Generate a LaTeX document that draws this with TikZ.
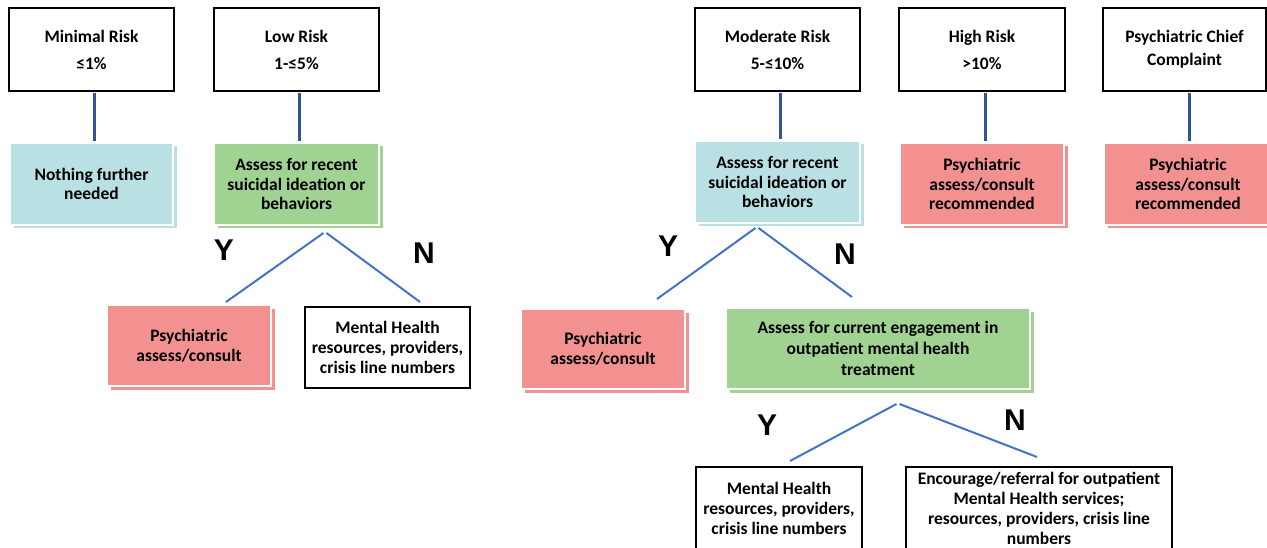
\documentclass[tikz,border=0pt]{standalone}
\usepackage{fontspec}
\setmainfont{Carlito}
\newfontfamily\ynfont{Liberation Sans}
\usetikzlibrary{shadows}
\definecolor{cyanF}{RGB}{185,225,228}
\definecolor{greenF}{RGB}{160,210,146}
\definecolor{pinkF}{RGB}{243,145,145}
\definecolor{topLine}{RGB}{47,85,151}
\definecolor{ynLine}{RGB}{68,114,196}
\tikzset{
  boxtxt/.style={font=\fontsize{17.5}{19.8}\selectfont\bfseries},
  topbox/.style={draw=black, line width=2pt, fill=white, inner sep=0pt, align=center,
     font=\fontsize{17.5}{27}\selectfont\bfseries},
  outbox/.style={draw=black, line width=2pt, fill=white, inner sep=0pt, align=center, boxtxt},
  colbox/.style={fill=#1, draw=white, line width=1.5pt, inner sep=0pt, align=center, boxtxt,
     general shadow={fill=#1, shadow xshift=4pt, shadow yshift=-3.5pt}},
  topconn/.style={draw=topLine, line width=3pt, shorten >=1pt, shorten <=1pt},
  ynconn/.style={draw=ynLine, line width=2pt},
  ynlab/.style={font=\ynfont\fontsize{30}{30}\selectfont\bfseries, inner sep=0pt}
}
\begin{document}
\begin{tikzpicture}[x=1pt,y=-1pt]
\useasboundingbox (0,0) rectangle (1267,548);
\clip (0,0) rectangle (1267,548);
% top row
\node[topbox, minimum width=165pt, minimum height=83pt] (minr) at (91.5,49.5) {Minimal Risk\\≤1\%};
\node[topbox, minimum width=165pt, minimum height=83pt] (lowr) at (296.5,49.5) {Low Risk\\1-≤5\%};
\node[topbox, minimum width=165pt, minimum height=83pt] (modr) at (777.5,49.5) {Moderate Risk\\5-≤10\%};
\node[topbox, minimum width=166pt, minimum height=83pt] (highr) at (982,49.5) {High Risk\\>10\%};
\node[topbox, minimum width=163pt, minimum height=83pt, font=\fontsize{17.5}{23}\selectfont\bfseries] (pcc) at (1184.5,49.5) {Psychiatric Chief\\Complaint};
% second row
\node[colbox=cyanF, minimum width=163pt, minimum height=82pt] (nfn) at (91.5,184) {Nothing further\\needed};
\node[colbox=greenF, minimum width=165pt, minimum height=82pt] (lowa) at (296.5,184) {Assess for recent\\suicidal ideation or\\behaviors};
\node[colbox=cyanF, minimum width=165pt, minimum height=82pt] (moda) at (777.5,182) {Assess for recent\\suicidal ideation or\\behaviors};
\node[colbox=pinkF, minimum width=164pt, minimum height=82pt] (highp) at (982,184) {Psychiatric\\assess/consult\\recommended};
\node[colbox=pinkF, minimum width=168pt, minimum height=82pt] (pccp) at (1188,184) {Psychiatric\\assess/consult\\recommended};
% third row
\node[colbox=pinkF, minimum width=164pt, minimum height=81pt] (psyl) at (189,345.5) {Psychiatric\\assess/consult};
\node[outbox, minimum width=165pt, minimum height=81pt] (mhl) at (387.5,347.5) {Mental Health\\resources, providers,\\crisis line numbers};
\node[colbox=pinkF, minimum width=164pt, minimum height=80pt] (psym) at (603,349) {Psychiatric\\assess/consult};
\node[colbox=greenF, minimum width=304pt, minimum height=81pt, font=\fontsize{17.5}{21}\selectfont\bfseries] (engm) at (878,348.5) {Assess for current engagement in\\outpatient mental health\\treatment};
% fourth row
\node[outbox, minimum width=166pt, minimum height=83pt] (mhm) at (779,508.5) {Mental Health\\resources, providers,\\crisis line numbers};
\node[outbox, minimum width=266pt, minimum height=83pt] (enc) at (1039,508.5) {Encourage/referral for outpatient\\Mental Health services;\\resources, providers, crisis line\\numbers};
% vertical connectors
\draw[topconn] ([xshift=2.5pt]minr.south) -- ([xshift=2.5pt]minr.south |- nfn.north);
\draw[topconn] ([xshift=2.5pt]lowr.south) -- ([xshift=2.5pt]lowr.south |- lowa.north);
\draw[topconn] ([xshift=2.5pt]modr.south) -- ([xshift=2.5pt]modr.south |- moda.north);
\draw[topconn] ([xshift=3pt]highr.south) -- ([xshift=3pt]highr.south |- highp.north);
\draw[topconn] ([xshift=4.5pt]pcc.south) -- ([xshift=4.5pt]pcc.south |- pccp.north);
% Y/N branches, low risk
\coordinate (la) at (325,233);
\coordinate (ly) at (226,302);
\coordinate (ln) at (420,302);
\draw[ynconn] ([xshift=-1.5pt]la) -- (ly);
\draw[ynconn] ([xshift=1.5pt]la) -- (ln);
\node[ynlab] (lyl) at (224,250) {Y};
\node[ynlab] (lnl) at (424,253) {N};
% moderate risk
\coordinate (ma) at (757,228);
\coordinate (my) at (657,299);
\coordinate (mn) at (852,297);
\draw[ynconn] ([xshift=-1.5pt]ma) -- (my);
\draw[ynconn] ([xshift=1.5pt]ma) -- (mn);
\node[ynlab] (myl) at (668,246) {Y};
\node[ynlab] (mnl) at (845,254) {N};
% engagement
\coordinate (ea) at (898,404);
\coordinate (ey) at (790,461);
\coordinate (en) at (1037,457);
\draw[ynconn] ([xshift=-1.5pt]ea) -- (ey);
\draw[ynconn] ([xshift=1.5pt]ea) -- (en);
\node[ynlab] (eyl) at (767,425) {Y};
\node[ynlab] (enl) at (1015,420) {N};
\end{tikzpicture}
\end{document}
